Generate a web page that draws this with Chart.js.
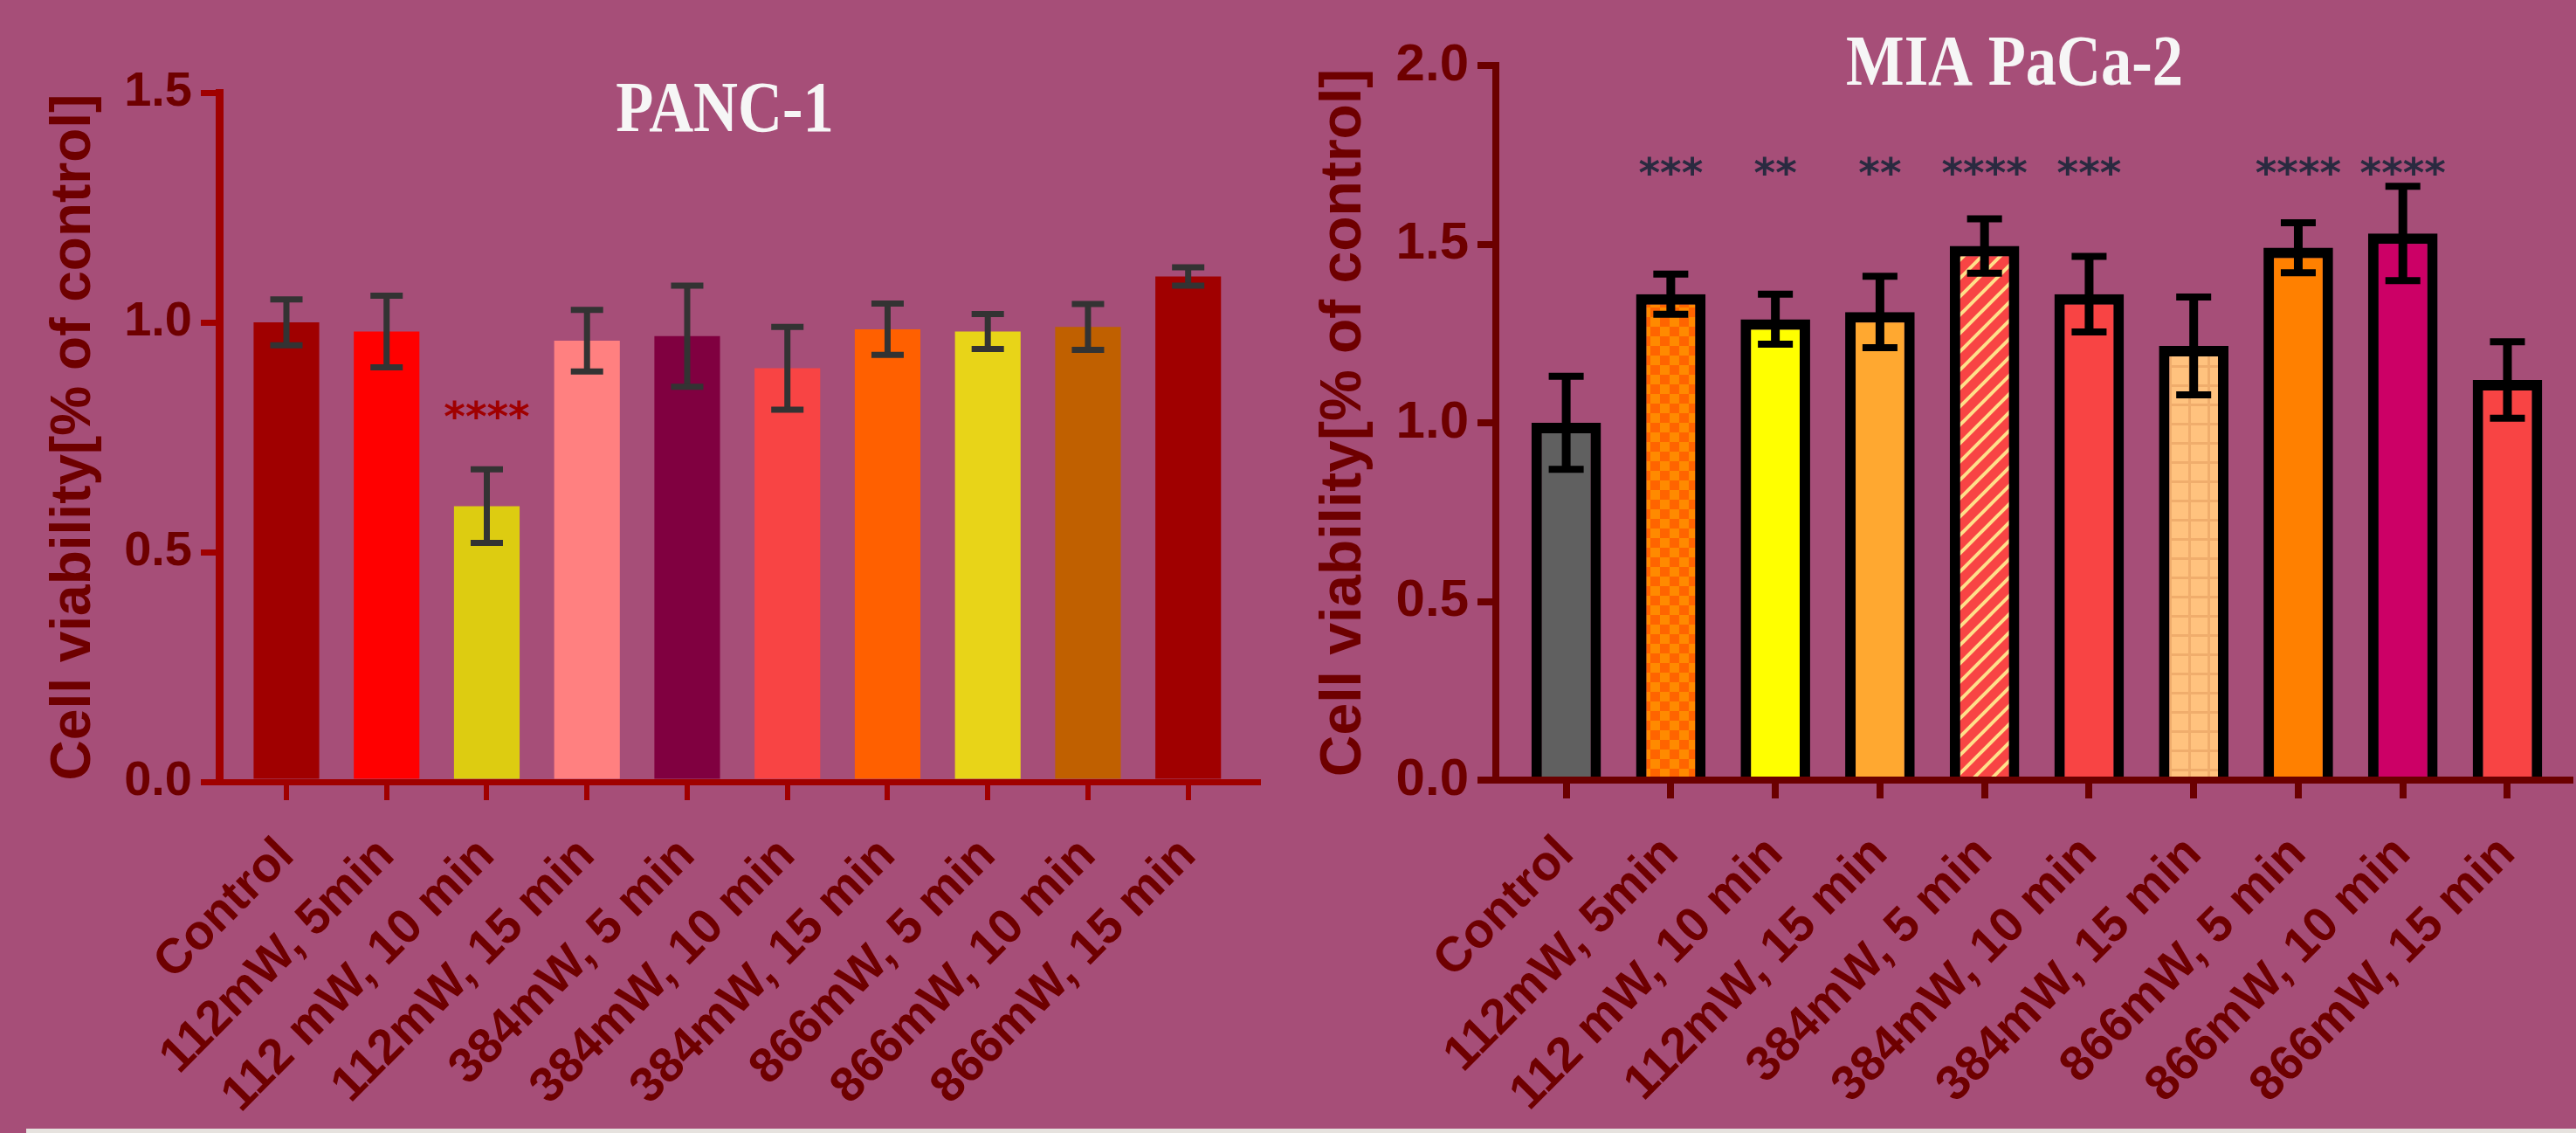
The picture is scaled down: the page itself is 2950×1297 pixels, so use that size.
<!DOCTYPE html>
<html lang="en">
<head>
  <meta charset="UTF-8" />
  <title>Cell viability - PANC-1 / MIA PaCa-2</title>
  <script src="https://cdn.jsdelivr.net/npm/chart.js"></script>
  <style>
    html, body { margin: 0; padding: 0; }
    body { width: 2950px; height: 1297px; background: #a64e78; position: relative; overflow: hidden; }
    #panc { position: absolute; left: 0; top: 0; }
    #mia { position: absolute; left: 1450px; top: 0; }
    .strip { position: absolute; left: 30px; top: 1292px; width: 2920px; height: 5px; background: #e6e2de; }
  </style>
</head>
<body>
  <canvas id="panc" width="1450" height="1292"></canvas>
  <canvas id="mia" width="1500" height="1292"></canvas>
  <div class="strip"></div>
  <script>
    // categories (same for both panels)
    const labels = ['Control', '112mW, 5min', '112 mW, 10 min', '112mW, 15 min', '384mW, 5 min',
                    '384mW, 10 min', '384mW, 15 min', '866mW, 5 min', '866mW, 10 min', '866mW, 15 min'];

    // PANC-1
    const pancValues = [1.00, 0.98, 0.60, 0.96, 0.97, 0.90, 0.985, 0.98, 0.99, 1.10];
    const pancErrors = [0.05, 0.078, 0.08, 0.067, 0.11, 0.09, 0.056, 0.038, 0.05, 0.02];
    const pancStars  = ['', '', '****', '', '', '', '', '', '', ''];
    const pancTicks  = [0, 0.5, 1.0, 1.5];

    // MIA PaCa-2
    const miaValues = [1.00, 1.36, 1.29, 1.31, 1.495, 1.36, 1.215, 1.49, 1.53, 1.12];
    const miaErrors = [0.13, 0.056, 0.07, 0.10, 0.076, 0.106, 0.137, 0.07, 0.132, 0.107];
    const miaStars  = ['', '***', '**', '**', '****', '***', '', '****', '****', ''];
    const miaTicks  = [0, 0.5, 1.0, 1.5, 2.0];

    const yTitle = 'Cell viability[% of control]';
    const sansFont = '"Liberation Sans", Arial, sans-serif';

    function tile(size, draw) {
      const c = document.createElement('canvas');
      c.width = size; c.height = size;
      draw(c.getContext('2d'), size);
      return c.getContext('2d').createPattern(c, 'repeat');
    }

    const checker = tile(22, (g, s) => {
      g.fillStyle = '#ff8a00'; g.fillRect(0, 0, s, s);
      g.fillStyle = '#ff6400'; g.fillRect(0, 0, 11, 11); g.fillRect(11, 11, 11, 11);
    });
    const stripes = tile(21, (g, s) => {
      g.fillStyle = '#f84444'; g.fillRect(0, 0, s, s);
      g.strokeStyle = '#ffe08a'; g.lineWidth = 4;
      g.beginPath();
      g.moveTo(0, s); g.lineTo(s, 0);
      g.moveTo(-2, 2); g.lineTo(2, -2);
      g.moveTo(s - 2, s + 2); g.lineTo(s + 2, s - 2);
      g.stroke();
    });
    const grid = tile(22, (g, s) => {
      g.fillStyle = '#ffc27e'; g.fillRect(0, 0, s, s);
      g.fillStyle = '#f0ad6c'; g.fillRect(0, 0, s, 3); g.fillRect(0, 0, 3, s);
    });

    const pancColors = ['#a00000', '#ff0000', '#ddcc11', '#ff8080', '#800040',
                        '#f84444', '#ff6000', '#e8d418', '#c06000', '#a00000'];
    const miaColors  = ['#606060', checker, '#ffff00', '#ffa830', stripes,
                        '#f84444', grid, '#ff8000', '#cc0066', '#f84444'];

    // error bars, significance stars and panel title
    const extras = {
      id: 'extras',
      afterDatasetsDraw(chart, args, o) {
        const { ctx, scales: { x, y } } = chart;
        ctx.save();
        ctx.strokeStyle = o.errColor;
        o.values.forEach((v, i) => {
          const px = x.getPixelForValue(i);
          const top = y.getPixelForValue(v + o.errors[i]);
          const bot = y.getPixelForValue(v - o.errors[i]);
          ctx.lineWidth = o.errWidth;
          ctx.beginPath();
          ctx.moveTo(px, top); ctx.lineTo(px, bot);
          ctx.stroke();
          ctx.lineWidth = o.capThick;
          ctx.beginPath();
          ctx.moveTo(px - o.capWidth / 2, top); ctx.lineTo(px + o.capWidth / 2, top);
          ctx.moveTo(px - o.capWidth / 2, bot); ctx.lineTo(px + o.capWidth / 2, bot);
          ctx.stroke();
        });
        ctx.fillStyle = o.starColor;
        ctx.font = 'bold 47px "DejaVu Sans", sans-serif';
        ctx.textAlign = 'center';
        ctx.textBaseline = 'alphabetic';
        o.stars.forEach((s, i) => {
          if (s) ctx.fillText(s, x.getPixelForValue(i), y.getPixelForValue(o.starLevel) + 24);
        });
        ctx.restore();
      },
      afterDraw(chart, args, o) {
        const ctx = chart.ctx;
        ctx.save();
        ctx.translate(o.titleX, o.titleY);
        ctx.scale(0.86, 1);
        ctx.fillStyle = '#f6f6f6';
        ctx.font = 'bold 82px "Liberation Serif", "Times New Roman", serif';
        ctx.textAlign = 'center';
        ctx.textBaseline = 'alphabetic';
        ctx.fillText(o.title, 0, 0);
        ctx.restore();
      }
    };

    function makeChart(id, c) {
      return new Chart(document.getElementById(id), {
        type: 'bar',
        data: {
          datasets: [{
            data: c.values.map((v, i) => ({ x: i, y: v })),
            backgroundColor: c.colors,
            borderColor: '#000',
            borderWidth: c.borderWidth,
            borderSkipped: 'bottom',
            categoryPercentage: 1,
            barPercentage: c.barPct
          }]
        },
        options: {
          responsive: false,
          animation: false,
          layout: { padding: c.padding },
          plugins: {
            legend: { display: false },
            tooltip: { enabled: false },
            extras: {
              values: c.values, errors: c.errors, stars: c.stars, starLevel: c.starLevel,
              starColor: c.starColor, errColor: c.errColor, errWidth: c.errWidth,
              capThick: c.capThick, capWidth: c.capWidth,
              title: c.title, titleX: c.titleX, titleY: c.titleY
            }
          },
          scales: {
            x: {
              type: 'linear', min: c.xMin, max: c.xMax, z: 1, offset: false,
              afterBuildTicks: s => { s.ticks = labels.map((_, i) => ({ value: i })); },
              afterFit: s => { s.height = c.xHeight; },
              ticks: {
                autoSkip: false, minRotation: 45, maxRotation: 45, padding: 31, labelOffset: 0,
                color: '#6e0000', font: { family: sansFont, size: 56, weight: 'bold' },
                callback: v => labels[v]
              },
              grid: { offset: false, drawOnChartArea: false, drawTicks: true, tickLength: 21, lineWidth: c.xTickWidth, color: c.axisColor },
              border: { color: c.axisColor, width: c.xAxisWidth }
            },
            y: {
              min: 0, max: c.yTicks[c.yTicks.length - 1],
              afterBuildTicks: s => { s.ticks = c.yTicks.map(v => ({ value: v })); },
              afterFit: s => { s.width = c.yWidth; },
              ticks: {
                padding: 10, color: '#6e0000',
                font: { family: sansFont, size: c.tickSize, weight: 'bold' },
                callback: v => v.toFixed(1)
              },
              grid: { drawOnChartArea: false, drawTicks: true, tickLength: 21, lineWidth: c.yTickWidth, color: c.axisColor },
              border: { color: c.axisColor, width: c.yAxisWidth },
              title: {
                display: true, text: yTitle, color: '#6e0000',
                font: { family: sansFont, size: c.titleSize, weight: 'bold' },
                padding: { top: c.titlePad, bottom: 0 }
              }
            }
          }
        },
        plugins: [extras]
      });
    }

    makeChart('panc', {
      values: pancValues, errors: pancErrors, stars: pancStars, starLevel: 0.81, starColor: '#a00000',
      colors: pancColors, borderWidth: 0, barPct: 0.655,
      errColor: '#333333', errWidth: 7, capThick: 7, capWidth: 37,
      title: 'PANC-1', titleX: 830, titleY: 150,
      padding: { top: 106, left: 40, right: 9, bottom: 0 },
      xMin: -0.671, xMax: 9.70, xHeight: 397, yWidth: 211, yTicks: pancTicks,
      axisColor: '#a00000', xAxisWidth: 7, yAxisWidth: 9, xTickWidth: 6, yTickWidth: 7,
      tickSize: 56, titleSize: 64, titlePad: 7
    });

    makeChart('mia', {
      values: miaValues, errors: miaErrors, stars: miaStars, starLevel: 1.72, starColor: '#2a2a40',
      colors: miaColors, borderWidth: 12, barPct: 0.665,
      errColor: '#000000', errWidth: 10, capThick: 8, capWidth: 40,
      title: 'MIA PaCa-2', titleX: 857, titleY: 97,
      padding: { top: 75, left: 44, right: 0, bottom: 0 },
      xMin: -0.673, xMax: 9.60, xHeight: 399, yWidth: 219, yTicks: miaTicks,
      axisColor: '#6b0000', xAxisWidth: 8, yAxisWidth: 8, xTickWidth: 8, yTickWidth: 8,
      tickSize: 60, titleSize: 66, titlePad: 6
    });
  </script>
</body>
</html>
